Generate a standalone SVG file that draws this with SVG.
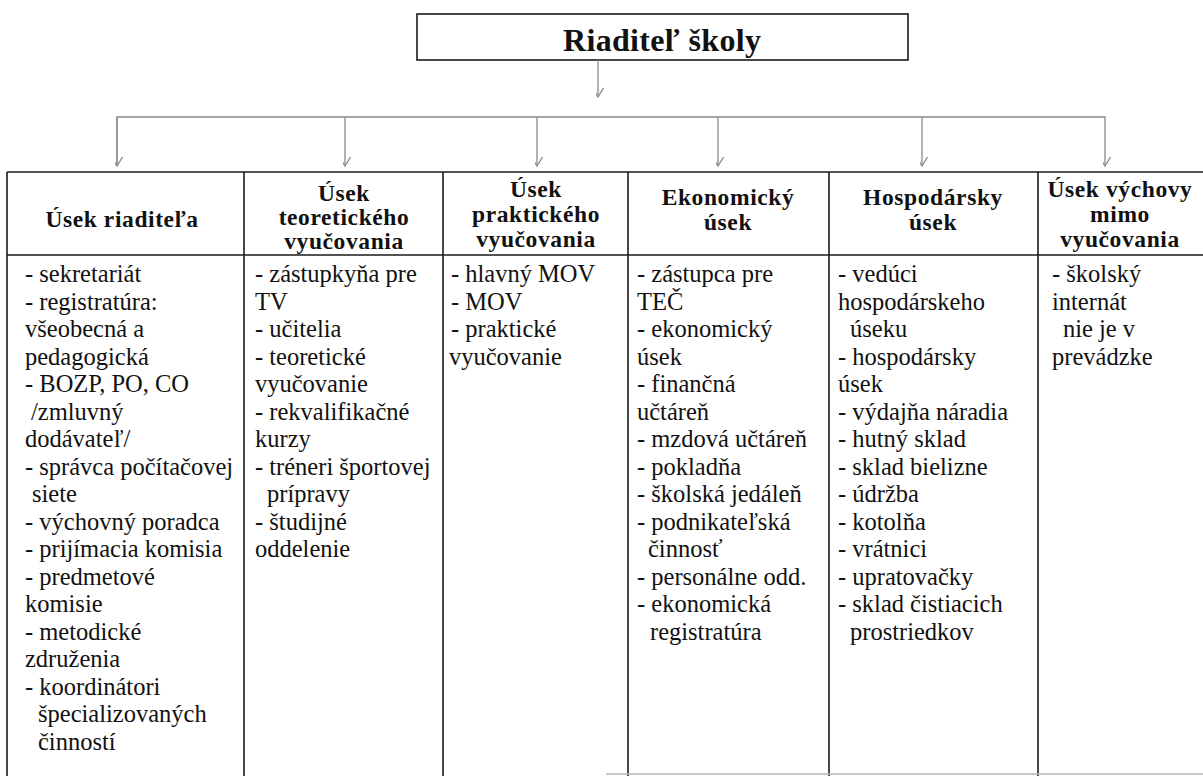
<svg xmlns="http://www.w3.org/2000/svg" width="1203" height="776" viewBox="0 0 1203 776">
<defs>
<style>
.bg{fill:#ffffff}
.box{fill:#ffffff;stroke:#1a1a1a;stroke-width:1.6}
.title{font-weight:bold;font-size:32px;fill:#111;text-anchor:middle}
.hd{font-weight:bold;font-size:23.5px;fill:#111;text-anchor:middle;letter-spacing:0.6px}
.tx{font-size:24.5px;fill:#111}
.grid{stroke:#1a1a1a;stroke-width:1.6;fill:none}
.con{stroke:#8a8a8a;stroke-width:1.3;fill:none}
</style>
<marker id="arr" viewBox="-9 -14 18 16" markerWidth="18" markerHeight="16" refX="0" refY="0" orient="auto" markerUnits="userSpaceOnUse">
<path d="M-8,-13 L0,0 L8,-13" stroke="#8a8a8a" stroke-width="1.3" fill="none" transform="rotate(-90)"/>
</marker>
</defs>
<rect class="bg" x="0" y="0" width="1203" height="776"/>

<g font-family="'Liberation Serif', Tinos, 'Times New Roman', 'DejaVu Serif', serif">
<g id="director">
<rect class="box" x="417" y="14" width="491" height="46"/>
<text class="title" x="662" y="51" textLength="198" lengthAdjust="spacing">Riaditeľ školy</text>
</g>

<g id="connectors">
<line class="con" x1="598" y1="60" x2="598" y2="97" marker-end="url(#arr)"/>
<polyline class="con" points="117,166 117,117 1105,117 1105,166" marker-end="url(#arr)"/>
<line class="con" x1="117" y1="117" x2="117" y2="166" marker-end="url(#arr)"/>
<line class="con" x1="345" y1="117" x2="345" y2="166" marker-end="url(#arr)"/>
<line class="con" x1="537" y1="117" x2="537" y2="166" marker-end="url(#arr)"/>
<line class="con" x1="718" y1="117" x2="718" y2="166" marker-end="url(#arr)"/>
<line class="con" x1="922" y1="117" x2="922" y2="166" marker-end="url(#arr)"/>
</g>

<g id="table-grid">
<line class="grid" x1="7" y1="172" x2="1203" y2="172"/>
<line class="grid" x1="7" y1="255" x2="1203" y2="255"/>
<line class="grid" x1="7" y1="172" x2="7" y2="776"/>
<line class="grid" x1="244" y1="172" x2="244" y2="776"/>
<line class="grid" x1="443" y1="172" x2="443" y2="776"/>
<line class="grid" x1="628" y1="172" x2="628" y2="776"/>
<line class="grid" x1="829" y1="172" x2="829" y2="776"/>
<line class="grid" x1="1038" y1="172" x2="1038" y2="776"/>
<line x1="606" y1="774" x2="1203" y2="774" stroke="#b5b5b5" stroke-width="1.5"/>
</g>

<g id="col-riaditel">
<text class="hd" x="122" y="227">Úsek riaditeľa</text>
<text class="tx" x="25" y="282">- sekretariát</text>
<text class="tx" x="25" y="309.5">- registratúra:</text>
<text class="tx" x="25" y="337">všeobecná a</text>
<text class="tx" x="25" y="364.5">pedagogická</text>
<text class="tx" x="25" y="392">- BOZP, PO, CO</text>
<text class="tx" x="31" y="419.5">/zmluvný</text>
<text class="tx" x="25" y="447">dodávateľ/</text>
<text class="tx" x="25" y="474.5">- správca počítačovej</text>
<text class="tx" x="32" y="502">siete</text>
<text class="tx" x="25" y="529.5">- výchovný poradca</text>
<text class="tx" x="25" y="557">- prijímacia komisia</text>
<text class="tx" x="25" y="584.5">- predmetové</text>
<text class="tx" x="25" y="612">komisie</text>
<text class="tx" x="25" y="639.5">- metodické</text>
<text class="tx" x="25" y="667">združenia</text>
<text class="tx" x="25" y="694.5">- koordinátori</text>
<text class="tx" x="38" y="722">špecializovaných</text>
<text class="tx" x="38" y="749.5">činností</text>
</g>

<g id="col-teoreticke">
<text class="hd" x="344" y="201">Úsek</text>
<text class="hd" x="344" y="225">teoretického</text>
<text class="hd" x="344" y="249">vyučovania</text>
<text class="tx" x="255" y="282">- zástupkyňa pre</text>
<text class="tx" x="255" y="309.5">TV</text>
<text class="tx" x="255" y="337">- učitelia</text>
<text class="tx" x="255" y="364.5">- teoretické</text>
<text class="tx" x="255" y="392">vyučovanie</text>
<text class="tx" x="255" y="419.5">- rekvalifikačné</text>
<text class="tx" x="255" y="447">kurzy</text>
<text class="tx" x="255" y="474.5">- tréneri športovej</text>
<text class="tx" x="267" y="502">prípravy</text>
<text class="tx" x="255" y="529.5">- študijné</text>
<text class="tx" x="255" y="557">oddelenie</text>
</g>

<g id="col-prakticke">
<text class="hd" x="536" y="197">Úsek</text>
<text class="hd" x="536" y="222">praktického</text>
<text class="hd" x="536" y="247">vyučovania</text>
<text class="tx" x="451" y="282">- hlavný MOV</text>
<text class="tx" x="451" y="309.5">- MOV</text>
<text class="tx" x="451" y="337">- praktické</text>
<text class="tx" x="449" y="364.5">vyučovanie</text>
</g>

<g id="col-ekonomicky">
<text class="hd" x="728" y="205">Ekonomický</text>
<text class="hd" x="728" y="230">úsek</text>
<text class="tx" x="637" y="282">- zástupca pre</text>
<text class="tx" x="637" y="309.5">TEČ</text>
<text class="tx" x="637" y="337">- ekonomický</text>
<text class="tx" x="637" y="364.5">úsek</text>
<text class="tx" x="637" y="392">- finančná</text>
<text class="tx" x="637" y="419.5">učtáreň</text>
<text class="tx" x="637" y="447">- mzdová učtáreň</text>
<text class="tx" x="637" y="474.5">- pokladňa</text>
<text class="tx" x="637" y="502">- školská jedáleň</text>
<text class="tx" x="637" y="529.5">- podnikateľská</text>
<text class="tx" x="648" y="557">činnosť</text>
<text class="tx" x="637" y="584.5">- personálne odd.</text>
<text class="tx" x="637" y="612">- ekonomická</text>
<text class="tx" x="650" y="639.5">registratúra</text>
</g>

<g id="col-hospodarsky">
<text class="hd" x="933" y="205">Hospodársky</text>
<text class="hd" x="933" y="230">úsek</text>
<text class="tx" x="838" y="282">- vedúci</text>
<text class="tx" x="838" y="309.5">hospodárskeho</text>
<text class="tx" x="850" y="337">úseku</text>
<text class="tx" x="838" y="364.5">- hospodársky</text>
<text class="tx" x="838" y="392">úsek</text>
<text class="tx" x="838" y="419.5">- výdajňa náradia</text>
<text class="tx" x="838" y="447">- hutný sklad</text>
<text class="tx" x="838" y="474.5">- sklad bielizne</text>
<text class="tx" x="838" y="502">- údržba</text>
<text class="tx" x="838" y="529.5">- kotolňa</text>
<text class="tx" x="838" y="557">- vrátnici</text>
<text class="tx" x="838" y="584.5">- upratovačky</text>
<text class="tx" x="838" y="612">- sklad čistiacich</text>
<text class="tx" x="850" y="639.5">prostriedkov</text>
</g>

<g id="col-vychova">
<text class="hd" x="1120" y="197">Úsek výchovy</text>
<text class="hd" x="1120" y="222">mimo</text>
<text class="hd" x="1120" y="247">vyučovania</text>
<text class="tx" x="1052" y="282">- školský</text>
<text class="tx" x="1052" y="309.5">internát</text>
<text class="tx" x="1063" y="337">nie je v</text>
<text class="tx" x="1052" y="364.5">prevádzke</text>
</g>
</g>
</svg>
